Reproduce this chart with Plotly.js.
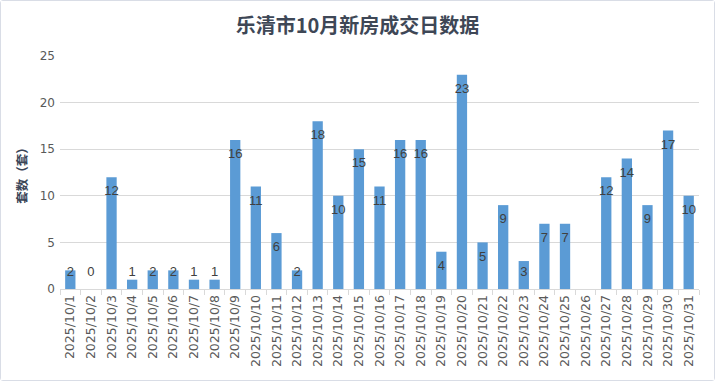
<!DOCTYPE html>
<html>
<head>
<meta charset="utf-8">
<script src="https://cdn.plot.ly/plotly-3.0.1.min.js"></script>
<style>
html,body{margin:0;padding:0;background:#fff;}
#wrap{position:absolute;left:0;top:0;width:713px;height:379px;border:1px solid #d9dde6;border-radius:3px;}
#chart{width:713px;height:379px;}
</style>
</head>
<body>
<div id="wrap"><div id="chart"></div></div>
<script>
const chartTitle = "乐清市10月新房成交日数据";
const yTitle = "套数（套）";
const categories = ["2025/10/1","2025/10/2","2025/10/3","2025/10/4","2025/10/5","2025/10/6","2025/10/7","2025/10/8","2025/10/9","2025/10/10","2025/10/11","2025/10/12","2025/10/13","2025/10/14","2025/10/15","2025/10/16","2025/10/17","2025/10/18","2025/10/19","2025/10/20","2025/10/21","2025/10/22","2025/10/23","2025/10/24","2025/10/25","2025/10/26","2025/10/27","2025/10/28","2025/10/29","2025/10/30","2025/10/31"];
const values = [2,0,12,1,2,2,1,1,16,11,6,2,18,10,15,11,16,16,4,23,5,9,3,7,7,null,12,14,9,17,10];
const yTicks = [0,5,10,15,20,25];

const labelText = values.map(v => v === null ? "" : String(v));
const labelY = values.map(v => v === null ? null : Math.max(v - 1.6, 1.7));

const bars = {
  type: "bar",
  x: categories,
  y: values,
  marker: {color: "#5b9bd5"},
  hoverinfo: "x+y",
  showlegend: false
};
const labels = {
  type: "scatter",
  mode: "text",
  x: categories,
  y: labelY,
  text: labelText,
  textposition: "middle center",
  cliponaxis: false,
  textfont: {family: "Liberation Sans, Arial, sans-serif", size: 13, color: "#404040"},
  hoverinfo: "skip",
  showlegend: false
};

const layout = {
  width: 713, height: 379,
  margin: {l: 59, r: 15, t: 55, b: 91},
  paper_bgcolor: "#ffffff",
  plot_bgcolor: "#ffffff",
  bargap: 0.5,
  title: {
    text: "<b>" + chartTitle + "</b>",
    x: 0.5, xanchor: "center", y: 0.935, yanchor: "middle",
    font: {family: "Noto Sans CJK SC, sans-serif", size: 20, color: "#3e4756"}
  },
  xaxis: {
    type: "category",
    automargin: false,
    range: [-0.5, categories.length - 0.5],
    tickangle: -90,
    tickfont: {family: "DejaVu Sans, sans-serif", size: 12.5, color: "#595959"},
    showline: true, linecolor: "#d9d9d9", linewidth: 1,
    ticks: "outside", tickson: "boundaries", ticklen: 5, tickcolor: "#d9d9d9",
    showgrid: false,
    fixedrange: true
  },
  yaxis: {
    automargin: false,
    range: [0, 25],
    tickvals: yTicks,
    ticktext: yTicks.map(String),
    tickfont: {family: "DejaVu Sans, sans-serif", size: 12, color: "#595959"},
    showgrid: true, gridcolor: "#d9d9d9", gridwidth: 1,
    zeroline: false,
    showline: false,
    ticklabelstandoff: 4,
    title: {
      text: "<b>" + yTitle + "</b>",
      font: {family: "Noto Sans CJK SC, sans-serif", size: 12.5, color: "#3b4658"},
      standoff: 9
    },
    fixedrange: true
  }
};

Plotly.newPlot("chart", [bars, labels], layout, {displayModeBar: false, staticPlot: true});
</script>
</body>
</html>
